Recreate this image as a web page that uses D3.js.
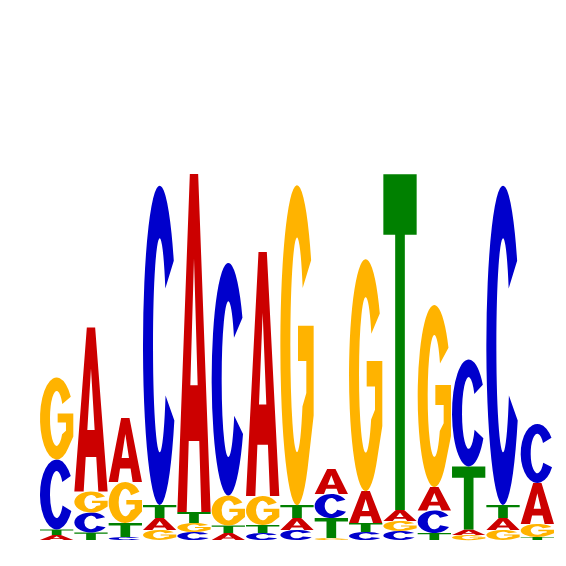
<!DOCTYPE html>
<html>
<head>
<meta charset="utf-8">
<script src="https://cdn.jsdelivr.net/npm/d3@7"></script>
<style>body{margin:0;background:#fff;}</style>
</head>
<body>
<script>
// motif positions and information content (bits) per base
var positions = [1,2,3,4,5,6,7,8,9,10,11,12,13,14,15];
var bitsA = [0.020,0.656,0.256,0.048,1.352,0.028,0.976,0.048,0.100,0.128,0.044,0.094,0.022,0.048,0.164];
var bitsC = [0.280,0.080,0.012,1.277,0.032,0.930,0.028,0.040,0.096,0.032,0.036,0.090,0.428,1.277,0.236];
var bitsG = [0.328,0.084,0.164,0.040,0.036,0.120,0.116,1.280,0.008,0.928,0.040,0.728,0.020,0.040,0.052];
var bitsT = [0.022,0.030,0.056,0.052,0.044,0.030,0.032,0.052,0.080,0.036,1.343,0.028,0.252,0.052,0.012];
var bases = ['A','C','G','T'];
var baseColors = ['#cc0000','#0000cc','#ffb300','#008000'];

// letter outlines in a 100x100 box, stretched to fit each stack slot
var glyphs = {
     A: 'M0,100L37.5,0H62.5L100,100H72L65.8,79H34.2L28,100Z M39,62.5L50,25L61,62.5Z',
     C: 'M92.4,23.5A50,50 0 1 0 94.1,73.5L67.7,65.7A20,33.5 0 1 1 67,32.2Z',
     G: 'M92.4,23.5A50,50 0 1 0 85.4,85.4L100,72V44H53V55H78V65L66.4,69.2A20,33.5 0 1 1 67,32.2Z',
     T: 'M0,0H100V18H64.5V100H35.5V18H0Z'
};

function main() {
     document.body.innerHTML = '<svg width="566" height="566"></svg>';
     var svg = d3.select('svg');

     var x = d3.scaleBand()
          .domain(positions)
          .range([40, 554])
          .paddingInner(0.03);
     var y = d3.scaleLinear()
          .domain([0, 2])
          .range([540, 40]);
     var color = d3.scaleOrdinal(bases, baseColors);
     var table = {A: bitsA, C: bitsC, G: bitsG, T: bitsT};

     // build stacks: smallest letter at the bottom
     var letters = [];
     positions.forEach(function(p, i) {
          var col = bases.map(function(b) { return {base: b, bits: table[b][i], pos: p}; })
               .sort(function(a, b) { return a.bits - b.bits; });
          var cum = 0;
          col.forEach(function(d) {
               d.y0 = cum;
               d.y1 = cum + d.bits;
               cum = d.y1;
               letters.push(d);
          });
     });

     svg.append('g')
          .selectAll('path')
          .data(letters)
          .enter()
          .append('path')
          .attr('d', function(d) { return glyphs[d.base]; })
          .attr('fill', function(d) { return color(d.base); })
          .attr('fill-rule', 'evenodd')
          .attr('transform', function(d) {
               var h = y(d.y0) - y(d.y1);
               return 'translate(' + x(d.pos) + ',' + y(d.y1) + ') scale(' + (x.bandwidth() / 100) + ',' + (h / 100) + ')';
          });
}
main();
</script>
</body>
</html>
